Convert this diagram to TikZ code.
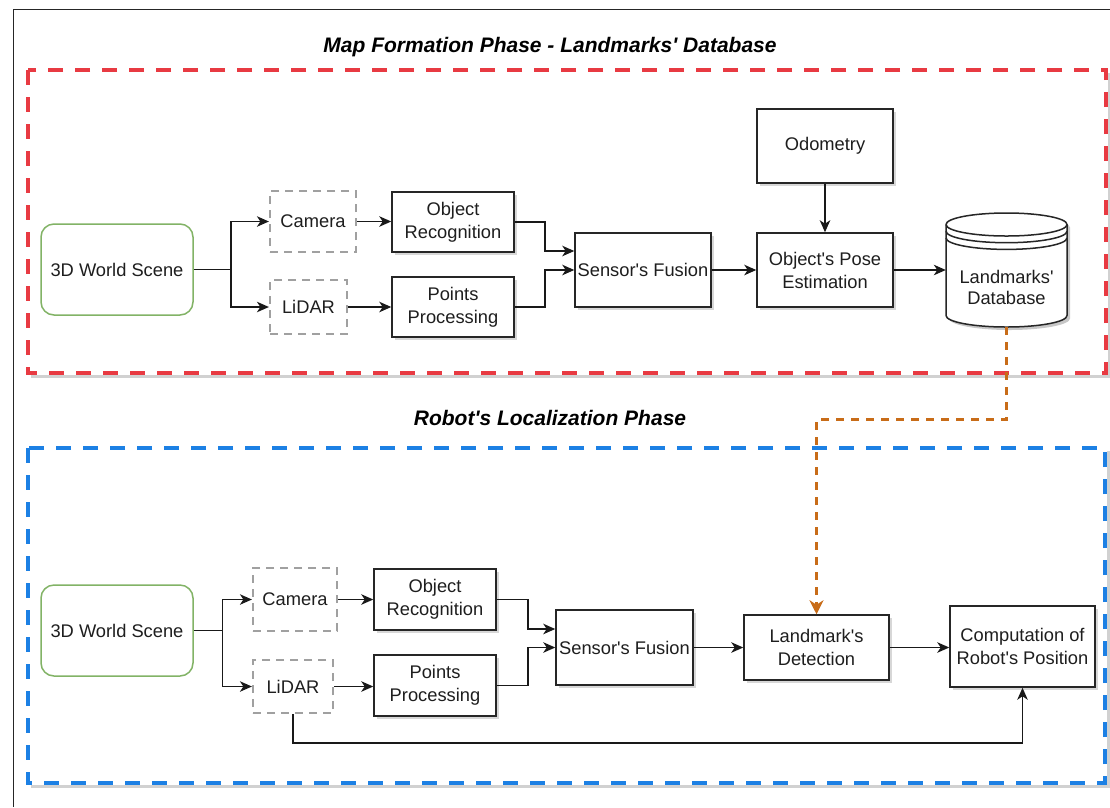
\documentclass[tikz,border=0pt]{standalone}
\usepackage{fontspec}
\setmainfont{Liberation Sans}[Ligatures=TeXOff]
\usetikzlibrary{arrows.meta,shadows,calc}

\definecolor{framered}{RGB}{232,58,66}
\definecolor{frameblue}{RGB}{28,128,228}
\definecolor{scenegreen}{RGB}{130,179,102}
\definecolor{sensorgray}{RGB}{160,160,160}
\definecolor{linkorange}{RGB}{200,108,24}
\definecolor{txt}{RGB}{30,30,30}

\tikzset{
  lbl/.style={font=\fontsize{18.3}{23}\selectfont, text=txt, align=center},
  shade3/.style={drop shadow={shadow xshift=3pt, shadow yshift=-3pt, opacity=.22, fill=black!70}},
  procbox/.style={lbl, draw=black!85, line width=1.5pt, fill=white, inner sep=0pt, shade3},
  scenebox/.style={lbl, draw=scenegreen, line width=1.5pt, fill=white, rounded corners=13pt, inner sep=0pt},
  sensorbox/.style={lbl, draw=sensorgray, line width=2.2pt, dash pattern=on 8pt off 6pt, fill=white, inner sep=0pt},
  arr/.style={draw=black!90, line width=1.5pt, -{Stealth[length=12pt, width=10.5pt, inset=3.5pt]}},
  link/.style={draw=black!90, line width=1.5pt},
  phase/.style={font=\fontsize{21}{25}\selectfont\bfseries\itshape, text=black},
  container/.style={line width=4pt, dash pattern=on 15pt off 12pt},
  containershadow/.style={line width=3pt, black!18},
}

\begin{document}
\begin{tikzpicture}[x=1pt, y=-1pt]
\useasboundingbox (0,0) rectangle (1110,807);
\fill[white] (0,0) rectangle (1110,807);

% outer frame edges
\draw[line width=1.5pt, black!85] (13.5,807) -- (13.5,9.5) -- (1110,9.5);

% phase containers with soft shadow on the lower right
\draw[containershadow] (1109,73) -- (1109,376) -- (31,376);
\draw[container, framered] (28,70) rectangle (1106,373);
\draw[containershadow] (1108,451) -- (1108,786) -- (31,786);
\draw[container, frameblue] (28,448) rectangle (1105,783);

\node[phase] (t1) at (550,47) {Map Formation Phase - Landmarks' Database};
\node[phase] (t2) at (550,418) {Robot's Localization Phase};

% ---------- map formation phase ----------
\node[scenebox, minimum width=152pt, minimum height=91pt] (scene1) at (117,269.5) {3D World Scene};
\node[sensorbox, minimum width=86pt, minimum height=61pt] (cam1) at (313,221.5) {Camera};
\node[sensorbox, minimum width=77pt, minimum height=54pt] (lid1) at (308.5,307) {LiDAR};
\node[procbox, minimum width=122pt, minimum height=60pt] (or1) at (453,222) {Object\\Recognition};
\node[procbox, minimum width=122pt, minimum height=60pt] (pp1) at (453,307) {Points\\Processing};
\node[procbox, minimum width=136pt, minimum height=74pt] (sf1) at (643,270) {Sensor's Fusion};
\node[procbox, minimum width=136pt, minimum height=74pt] (odo) at (825,146) {Odometry};
\node[procbox, minimum width=136pt, minimum height=74pt] (pose) at (825,270) {Object's Pose\\Estimation};

% landmarks' database drawn as a data store cylinder
\node[minimum width=121pt, minimum height=114pt, inner sep=0pt] (db) at (1006.5,270) {};
\fill[black, opacity=.22] (949,227.5) -- (949,318.5) arc[start angle=180, end angle=0, x radius=60.5, y radius=11.5]
  -- (1070,227.5) arc[start angle=0, end angle=-180, x radius=60.5, y radius=11.5] -- cycle;
\filldraw[fill=white, draw=black!85, line width=1.5pt]
  (946,224.5) -- (946,315.5) arc[start angle=180, end angle=0, x radius=60.5, y radius=11.5]
  -- (1067,224.5) arc[start angle=0, end angle=-180, x radius=60.5, y radius=11.5] -- cycle;
\draw[black!85, line width=1.5pt] (946,224.5) arc[start angle=180, end angle=0, x radius=60.5, y radius=11.5];
\draw[black!85, line width=1.5pt] (946,231.2) arc[start angle=180, end angle=0, x radius=60.5, y radius=11.5];
\draw[black!85, line width=1.5pt] (946,237.9) arc[start angle=180, end angle=0, x radius=60.5, y radius=11.5];
\node[lbl, font=\fontsize{18.3}{21.5}\selectfont] (dbtext) at (1006.5,287.5) {Landmarks'\\Database};

% connectors
\coordinate (j1) at (231,269.5);
\draw[link] (scene1.east) -- (j1);
\draw[arr] (j1) |- (cam1.west);
\draw[arr] (j1) |- (lid1.west);
\draw[arr] (cam1.east) -- (cam1.east -| or1.west);
\draw[arr] (lid1.east) -- (pp1.west);
\draw[arr] (or1.east) -- ++(30,0) |- ($(sf1.west)+(0,-19)$);
\draw[arr] (pp1.east) -- ++(30,0) |- (sf1.west);
\draw[arr] (sf1.east) -- (pose.west);
\draw[arr] (odo.south) -- (pose.north);
\draw[arr] (pose.east) -- (pose.east -| db.west);

% ---------- robot's localization phase ----------
\node[scenebox, minimum width=152pt, minimum height=91pt] (scene2) at (117,630.5) {3D World Scene};
\node[sensorbox, minimum width=84pt, minimum height=63pt] (cam2) at (295,599.5) {Camera};
\node[sensorbox, minimum width=80pt, minimum height=53pt] (lid2) at (293,686.5) {LiDAR};
\node[procbox, minimum width=122pt, minimum height=61pt] (or2) at (435,599.5) {Object\\Recognition};
\node[procbox, minimum width=122pt, minimum height=61pt] (pp2) at (435,685.5) {Points\\Processing};
\node[procbox, minimum width=137pt, minimum height=75pt] (sf2) at (624.5,647.5) {Sensor's Fusion};
\node[procbox, minimum width=145pt, minimum height=65pt] (ld) at (816.5,647.5) {Landmark's\\Detection};
\node[procbox, minimum width=145pt, minimum height=81pt] (comp) at (1022.5,646.5) {Computation of\\Robot's Position};

\coordinate (j2) at (222.7,630.5);
\draw[link] (scene2.east) -- (j2);
\draw[arr] (j2) |- (cam2.west);
\draw[arr] (j2) |- (lid2.west);
\draw[arr] (cam2.east) -- (or2.west);
\draw[arr] (lid2.east) -- (lid2.east -| pp2.west);
\draw[arr] (or2.east) -- ++(31,0) |- ($(sf2.west)+(0,-18.5)$);
\draw[arr] (pp2.east) -- ++(31,0) |- (sf2.west);
\draw[arr] (sf2.east) -- (ld.west);
\draw[arr] (ld.east) -- (ld.east -| comp.west);
\draw[arr] (lid2.south) -- ++(0,29) -| (comp.south);

% database feeds the landmark detection
\coordinate (ob) at (1006.5,419.5);
\draw[line width=2.5pt, linkorange, dash pattern=on 8pt off 7pt,
      -{Stealth[length=14pt, width=14pt, inset=4.5pt]}]
  (db.south) -- (ob) -| (ld.north);
\end{tikzpicture}
\end{document}
